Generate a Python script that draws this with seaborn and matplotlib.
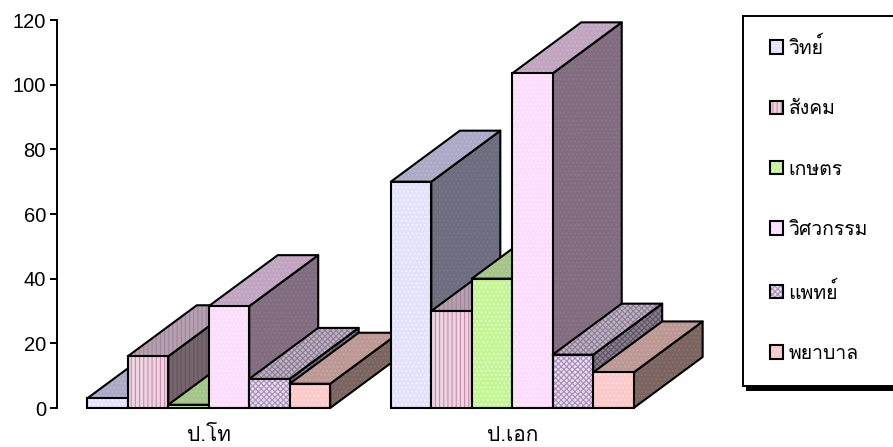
import matplotlib
matplotlib.use("Agg")
import matplotlib.pyplot as plt
import pandas as pd
import seaborn as sns
from matplotlib.legend_handler import HandlerTuple
from matplotlib.patches import Patch, Polygon, Rectangle

degrees = ["ป.โท", "ป.เอก"]
fields = ["วิทย์", "สังคม", "เกษตร", "วิศวกรรม", "แพทย์", "พยาบาล"]
masters = [3, 16, 1, 31.5, 9, 7.5]
doctors = [70, 30, 40, 103.5, 16.5, 11]
yticks = [0, 20, 40, 60, 80, 100, 120]

# front, top and side colours: (fill, texture)
front = [("#e2e2fc", "#f4f4ff"), ("#ecd4e0", "#c88cac"), ("#c4f594", "#e8ffd4"),
         ("#fcdcfc", "#fff0ff"), ("#e8dcf0", "#a88cb8"), ("#fcc8c8", "#ffe0e0")]
top = [("#aaaac6", "#b8b8d0"), ("#b4a0b0", "#a08498"), ("#a4c488", "#b0d098"),
       ("#c0a4c0", "#ccb4cc"), ("#c0b4c4", "#8c7c94"), ("#bc9894", "#c8a8a4")]
side = [("#6c6e80", "#767888"), ("#76646e", "#64545e"), ("#6c8058", "#788c64"),
        ("#826c80", "#8c788c"), ("#8c8090", "#5c5464"), ("#7c6460", "#887470")]
hatches = ["....", "||||", "....", "....", "xxxxxx", "...."]

df = pd.DataFrame({
    "degree": [d for d in degrees for _ in fields],
    "field": fields * 2,
    "count": masters + doctors,
})

sns.set_theme(style="white")
plt.rcParams["font.family"] = ["Liberation Sans"]
plt.rcParams["hatch.linewidth"] = 0.8
thai_font = ["Loma", "Noto Sans Thai Looped", "DejaVu Sans"]

W, H = 893, 447
fig = plt.figure(figsize=(W / 100, H / 100), dpi=100)
ax = fig.add_axes([57 / W, 1 - 408 / H, 607 / W, 388 / H])

sns.barplot(data=df, x="degree", y="count", hue="field", hue_order=fields, order=degrees,
            width=0.8, gap=0, dodge=True, legend=False, ax=ax)
ax.set_xlim(-0.5, 1.5)
ax.set_ylim(0, 120)
ax.set_yticks(yticks)
ax.set_xlabel("")
ax.set_ylabel("")
sns.despine(ax=ax, bottom=True)
ax.spines["left"].set_color("black")
ax.spines["left"].set_linewidth(1.4)
ax.tick_params(axis="y", length=5, width=1.4, color="black", labelsize=14.5, pad=3, left=True, labelcolor="black")
ax.tick_params(axis="x", length=0, labelsize=15, pad=13, labelcolor="black")
for lab in ax.get_xticklabels():
    lab.set_family(thai_font)

# depth of the extruded bars, pixels turned into data units
dx = 69 / 607 * 2
dy = 51 / 388 * 120


def face(pts, colors, hatch, z):
    ax.add_patch(Polygon(pts, closed=True, facecolor=colors[0], edgecolor=colors[1], hatch=hatch,
                         linewidth=0, zorder=z, clip_on=False))
    ax.add_patch(Polygon(pts, closed=True, fill=False, edgecolor="black", linewidth=1.5,
                         joinstyle="round", zorder=z + 0.1, clip_on=False))


for g in range(len(degrees)):
    for s, cont in enumerate(ax.containers):
        bar = cont[g]
        x0, w, h = bar.get_x(), bar.get_width(), bar.get_height()
        x1 = x0 + w
        z = 3 + g * 10 + s
        face([(x1, 0), (x1 + dx, dy), (x1 + dx, h + dy), (x1, h)], side[s], hatches[s], z)
        face([(x0, h), (x1, h), (x1 + dx, h + dy), (x0 + dx, h + dy)], top[s], hatches[s], z + 0.2)
        bar.set_facecolor(front[s][0])
        bar.set_edgecolor(front[s][1])
        bar.set_hatch(hatches[s])
        bar.set_linewidth(0)
        bar.set_zorder(z + 0.4)
        ax.add_patch(Rectangle((x0, 0), w, h, fill=False, edgecolor="black", linewidth=1.5,
                               zorder=z + 0.5, clip_on=False))

# legend box with its solid shadow, running off the right edge
fig.add_artist(Rectangle((746 / W, 1 - 391 / H), 1, 6 / H, transform=fig.transFigure,
                         facecolor="black", edgecolor="none"))
fig.add_artist(Rectangle((742.5 / W, 1 - 386 / H), 1, 370 / H, transform=fig.transFigure,
                         facecolor="white", edgecolor="black", linewidth=1.4))

handles = [(Patch(facecolor=front[s][0], edgecolor=front[s][1], hatch=hatches[s], linewidth=0),
            Patch(fill=False, edgecolor="black", linewidth=1.5)) for s in range(6)]
leg = fig.legend(handles=handles, labels=fields, loc="upper left", bbox_to_anchor=(754 / W, 1 - 21 / H),
                 frameon=False, prop={"family": thai_font, "size": 14},
                 handler_map={tuple: HandlerTuple(ndivide=1, pad=0)},
                 handlelength=0.67, handleheight=0.67, handletextpad=0.3, labelspacing=2.18,
                 labelcolor="black", borderpad=0.3)

fig.savefig("out.png", dpi=100)
